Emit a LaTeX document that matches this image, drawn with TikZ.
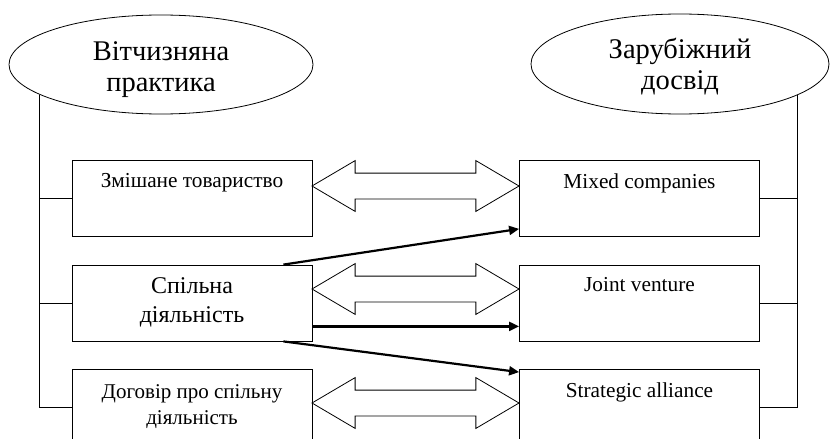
\documentclass[tikz,border=0pt]{standalone}
\usepackage{fontspec}
\setmainfont{Liberation Serif}
\usepackage{tikz}
\usetikzlibrary{arrows.meta, positioning, shapes.geometric, shapes.arrows}
\tikzstyle{process} = [rectangle, draw=black, line width=0.8pt, minimum width=240pt, minimum height=76pt, inner sep=0pt]
\tikzstyle{source} = [ellipse, draw=black, line width=0.8pt, inner sep=0pt, align=center, font=\fontsize{28.5}{31}\selectfont]
\tikzset{
	thickarrow/.style = {line width=2.2pt, -{Triangle[length=10pt,width=9pt]}},
	boxtext/.style = {anchor=north, yshift=-13pt, inner sep=0pt, align=center,
		font=\fontsize{21.3}{26}\selectfont},
	twoway/.style = {double arrow, draw=black, line width=0.8pt,
		minimum height=207pt, inner xsep=0pt, inner ysep=12.5pt,
		double arrow head extend=12.5pt, double arrow tip angle=61}
}

\begin{document}
\begin{tikzpicture}[x=1pt, y=-1pt, node distance=104.5pt]
\useasboundingbox (0,0) rectangle (830,439);
%----------------------------------------------------------------------------
% Placement of nodes
\node (homeEll) [source, minimum width=304pt, minimum height=99pt] at (161,64.5) {\rule{0pt}{30pt}Вітчизняна\\практика};
\node (foreignEll) [source, minimum width=298pt, minimum height=100pt] at (680,64) {\rule{0pt}{26pt}Зарубіжний\\досвід};

\node (mixedUA) [process, label={[boxtext]north:Змішане товариство}] at (192,198.5) {};
\node (jointUA) [process, below of = mixedUA, label={[boxtext, font=\fontsize{24}{29}\selectfont]north:Спільна\\діяльність}] {};
\node (contractUA) [process, below of = jointUA, label={[boxtext, yshift=-2pt, font=\fontsize{21}{26}\selectfont]north:Договір про спільну\\діяльність}] {};

\node (mixedEN) [process, right of = mixedUA, node distance = 447.5pt, label={[boxtext]north:Mixed companies}] {};
\node (jointEN) [process, below of = mixedEN, label={[boxtext]north:Joint venture}] {};
\node (contractEN) [process, below of = jointEN, label={[boxtext]north:Strategic alliance}] {};

\node (swapMixed) [twoway] at (415.5,186) {};
\node (swapJoint) [twoway] at (415.5,289) {};
\node (swapContract) [twoway] at (415.5,403) {};

%----------------------------------------------------------------------------
% Lines
\draw [line width=0.8pt] (homeEll.194) |- (contractUA.west);
\draw [line width=0.8pt] (mixedUA.west) -- (mixedUA.west -| homeEll.194);
\draw [line width=0.8pt] (jointUA.west) -- (jointUA.west -| homeEll.194);

\draw [line width=0.8pt] (foreignEll.345) |- (contractEN.east);
\draw [line width=0.8pt] (mixedEN.east) -- (mixedEN.east -| foreignEll.345);
\draw [line width=0.8pt] (jointEN.east) -- (jointEN.east -| foreignEll.345);

\draw [thickarrow] ([xshift=-29pt]jointUA.north east) -- ([yshift=8pt]mixedEN.south west);
\draw [thickarrow] ([yshift=15pt]jointUA.south east) -- ([yshift=15pt]jointEN.south west);
\draw [thickarrow] ([xshift=-29pt]jointUA.south east) -- ([yshift=-3pt]contractEN.north west);

\end{tikzpicture}
\end{document}
